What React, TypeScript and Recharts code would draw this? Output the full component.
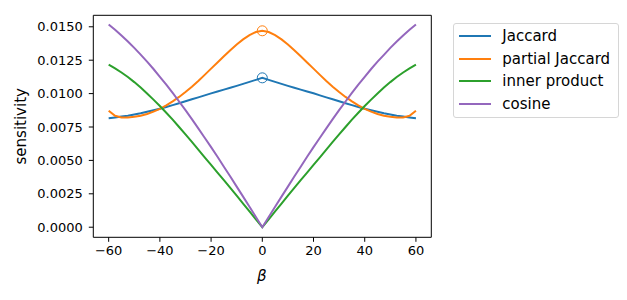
import { Line, LineChart, ReferenceLine, XAxis, YAxis } from 'recharts';

// beta from -60 to 60, step 2.5
const betas = [
  -60, -57.5, -55, -52.5, -50, -47.5, -45, -42.5, -40, -37.5, -35, -32.5, -30, -27.5, -25,
  -22.5, -20, -17.5, -15, -12.5, -10, -7.5, -5, -2.5, 0, 2.5, 5, 7.5, 10, 12.5, 15, 17.5, 20,
  22.5, 25, 27.5, 30, 32.5, 35, 37.5, 40, 42.5, 45, 47.5, 50, 52.5, 55, 57.5, 60,
];

const jaccard = [
  0.00815, 0.00821, 0.00828, 0.00835, 0.00844, 0.00853, 0.00864, 0.00875, 0.00887, 0.009,
  0.00914, 0.00928, 0.00943, 0.00958, 0.00972, 0.00987, 0.01002, 0.01016, 0.0103, 0.01044,
  0.01058, 0.01073, 0.01088, 0.01103, 0.01118, 0.01103, 0.01088, 0.01073, 0.01058, 0.01044,
  0.0103, 0.01016, 0.01002, 0.00987, 0.00972, 0.00958, 0.00943, 0.00928, 0.00914, 0.009,
  0.00887, 0.00875, 0.00864, 0.00853, 0.00844, 0.00835, 0.00828, 0.00821, 0.00815,
];

const partialJaccard = [
  0.00872, 0.00834, 0.00822, 0.00822, 0.00826, 0.00834, 0.00847, 0.00865, 0.00886, 0.00912,
  0.00942, 0.00975, 0.01012, 0.01052, 0.01095, 0.0114, 0.01187, 0.01233, 0.0128, 0.01325,
  0.01368, 0.01406, 0.01438, 0.01461, 0.0147, 0.01461, 0.01438, 0.01406, 0.01368, 0.01325,
  0.0128, 0.01233, 0.01187, 0.0114, 0.01095, 0.01052, 0.01012, 0.00975, 0.00942, 0.00912,
  0.00886, 0.00865, 0.00847, 0.00834, 0.00826, 0.00822, 0.00822, 0.00834, 0.00872,
];

const innerProduct = [
  0.01217, 0.01189, 0.01158, 0.01124, 0.01086, 0.01045, 0.01001, 0.00955, 0.00907, 0.00857,
  0.00805, 0.0075, 0.00695, 0.00638, 0.00581, 0.00523, 0.00466, 0.00409, 0.00352, 0.00294,
  0.00236, 0.00177, 0.00118, 0.00059, 0, 0.00059, 0.00118, 0.00177, 0.00236, 0.00294,
  0.00352, 0.00409, 0.00466, 0.00523, 0.00581, 0.00638, 0.00695, 0.0075, 0.00805, 0.00857,
  0.00907, 0.00955, 0.01001, 0.01045, 0.01086, 0.01124, 0.01158, 0.01189, 0.01217,
];

const cosine = [
  0.01517, 0.01478, 0.01435, 0.0139, 0.01342, 0.01292, 0.01239, 0.01184, 0.01126, 0.01067,
  0.01005, 0.00941, 0.00876, 0.00809, 0.0074, 0.0067, 0.00599, 0.00527, 0.00453, 0.00379,
  0.00304, 0.00229, 0.00153, 0.00076, 0, 0.00076, 0.00153, 0.00229, 0.00304, 0.00379,
  0.00453, 0.00527, 0.00599, 0.0067, 0.0074, 0.00809, 0.00876, 0.00941, 0.01005, 0.01067,
  0.01126, 0.01184, 0.01239, 0.0129, 0.01342, 0.0139, 0.01435, 0.01478, 0.01517,
];

// betas where the open-circle markers sit
const markedBetas = [0];

const xTicks = [-60, -40, -20, 0, 20, 40, 60];
const yTicks = [0, 0.0025, 0.005, 0.0075, 0.01, 0.0125, 0.015];
const xDomain = [-66, 66];
const yDomain = [-0.000755, 0.01586];

const series = [
  { key: 'jaccard', name: 'Jaccard', color: '#1f77b4', marked: true },
  { key: 'partialJaccard', name: 'partial Jaccard', color: '#ff7f0e', marked: true },
  { key: 'innerProduct', name: 'inner product', color: '#2ca02c', marked: false },
  { key: 'cosine', name: 'cosine', color: '#9467bd', marked: false },
];

const rows = betas.map((beta, i) => ({
  beta,
  jaccard: jaccard[i],
  partialJaccard: partialJaccard[i],
  innerProduct: innerProduct[i],
  cosine: cosine[i],
}));

const FONT = '"DejaVu Sans", sans-serif';
const fmtX = (v: number) => (v < 0 ? `\u2212${Math.abs(v)}` : String(v));

function markerDot(color: string) {
  return (props: any) => {
    const { cx, cy, payload, index } = props;
    if (!markedBetas.includes(payload.beta)) return <g key={`d${index}`} />;
    return (
      <circle key={`d${index}`} cx={cx} cy={cy} r={5} fill="none" stroke={color} strokeWidth={1} />
    );
  };
}

export default function App() {
  return (
    <div style={{ position: 'absolute', left: 0, top: 0, width: 627, height: 300, background: '#fff' }}>
      <LineChart
        width={627}
        height={300}
        data={rows}
        margin={{ top: 15.3, right: 195.7, bottom: 0, left: 0 }}
        style={{ fontFamily: FONT }}
      >
        <XAxis
          type="number"
          dataKey="beta"
          domain={xDomain}
          ticks={xTicks}
          tickFormatter={fmtX}
          height={62.7}
          tickSize={4.5}
          tickMargin={4}
          stroke="#000"
          tick={{ fill: '#000', fontSize: 13 }}
          allowDataOverflow
          label={() => (
            <text x={261.7} y={281} textAnchor="middle" fontSize={15} fontStyle="italic" fill="#000">
              β
            </text>
          )}
        />
        <YAxis
          type="number"
          domain={yDomain}
          ticks={yTicks}
          tickFormatter={(v: number) => v.toFixed(4)}
          width={93.3}
          tickSize={4.5}
          tickMargin={6}
          stroke="#000"
          tick={{ fill: '#000', fontSize: 13 }}
          allowDataOverflow
          label={() => (
            <text x={26} y={126.3} transform="rotate(-90 26 126.3)" textAnchor="middle" fontSize={15} fill="#000">
              sensitivity
            </text>
          )}
        />
        {/* top and right edges of the axes frame */}
        <ReferenceLine y={yDomain[1]} stroke="#000" strokeWidth={1} ifOverflow="visible" />
        <ReferenceLine x={xDomain[1]} stroke="#000" strokeWidth={1} ifOverflow="visible" />
        {series.map((s) => (
          <Line
            key={s.key}
            dataKey={s.key}
            name={s.name}
            type="linear"
            stroke={s.color}
            strokeWidth={2}
            dot={s.marked ? markerDot(s.color) : false}
            activeDot={false}
            isAnimationActive={false}
          />
        ))}
      </LineChart>
      <div
        style={{
          position: 'absolute',
          left: 453.3,
          top: 23.3,
          width: 166,
          height: 94.7,
          boxSizing: 'border-box',
          border: '1px solid #d6d6d6',
          borderRadius: 3,
          fontFamily: FONT,
          fontSize: 15,
        }}
      >
        {series.map((s, i) => (
          <div
            key={s.key}
            style={{
              position: 'absolute',
              left: 0,
              top: 11.7 + i * 22.6 - 11,
              height: 22,
              display: 'flex',
              alignItems: 'center',
              whiteSpace: 'nowrap',
            }}
          >
            <div style={{ marginLeft: 5, width: 31.4, height: 2, background: s.color }} />
            <span style={{ marginLeft: 11.6, color: '#000' }}>{s.name}</span>
          </div>
        ))}
      </div>
    </div>
  );
}
